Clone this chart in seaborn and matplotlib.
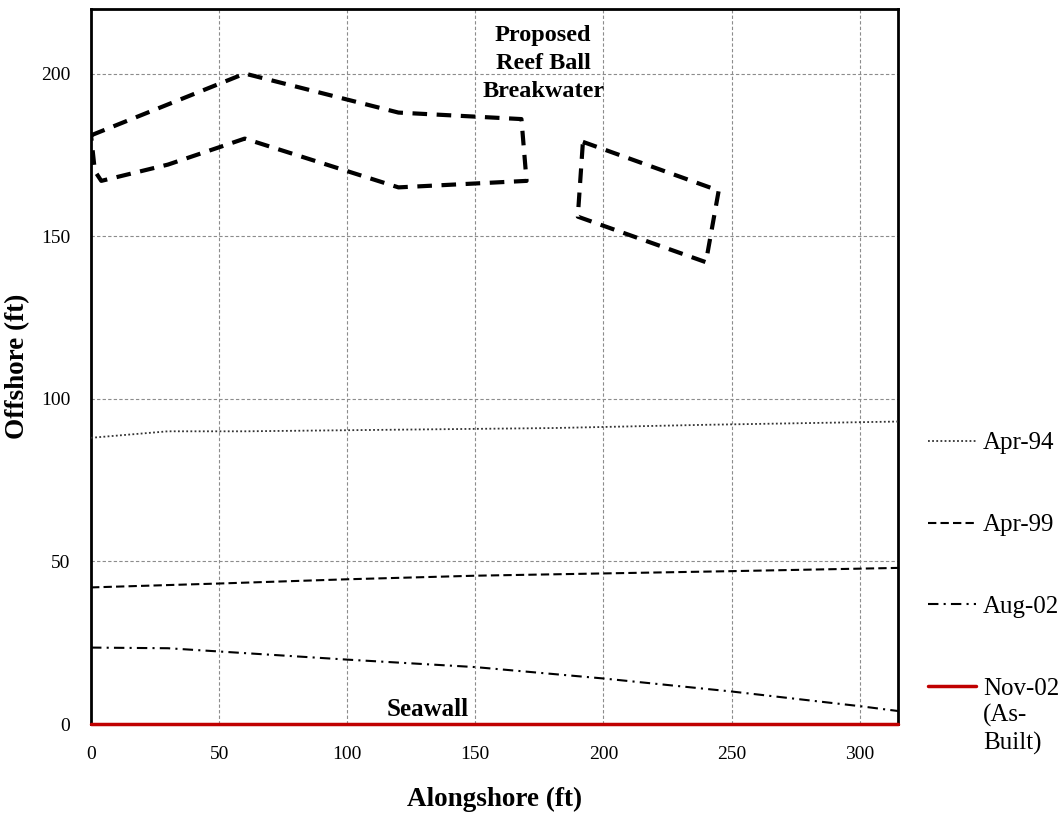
import matplotlib
matplotlib.use("Agg")
import matplotlib.pyplot as plt
from matplotlib.text import Annotation
import seaborn as sns
import pandas as pd

# ---------------- data ----------------
alongshore_apr94 = [0, 30, 60, 120, 180, 240, 315]
offshore_apr94 = [88, 90, 90, 90.5, 91, 92, 93]

alongshore_apr99 = [0, 50, 100, 150, 200, 250, 315]
offshore_apr99 = [42, 43.2, 44.5, 45.6, 46.3, 47, 48]

alongshore_aug02 = [0, 30, 60, 100, 150, 200, 250, 300, 315]
offshore_aug02 = [23.5, 23.3, 21.8, 19.8, 17.5, 14, 10, 5.5, 4]

alongshore_nov02 = [0, 315]
offshore_nov02 = [0, 0]

breakwater1_x = [0, 60, 120, 168, 170, 120, 60, 30, 4, 1.5, 0]
breakwater1_y = [181, 200, 188, 186, 167, 165, 180, 172, 167, 170, 181]

breakwater2_x = [192, 245, 240, 190, 192]
breakwater2_y = [179, 164, 142, 156, 179]

series_labels = ["Apr-94", "Apr-99", "Aug-02", "Nov-02"]
x_ticks = [0, 50, 100, 150, 200, 250, 300]
y_ticks = [0, 50, 100, 150, 200]

# ---------------- style ----------------
sns.set_style("white")
plt.rcParams['font.family'] = ['Liberation Serif', 'DejaVu Serif']
plt.rcParams['text.color'] = 'black'
plt.rcParams['axes.labelcolor'] = 'black'

fig = plt.figure(figsize=(10.61, 8.18), dpi=100)
ax = fig.add_axes([0.0858, 0.1149, 0.7606, 0.8747])

ax.set_axisbelow(True)
ax.grid(True, color="#8c8c8c", linestyle=(0, (3, 2)), linewidth=0.8)

styles = {
    "Apr-94": dict(color="#333333", linewidth=1.3, linestyle=(0, (1, 1.3))),
    "Apr-99": dict(color="black", linewidth=1.5, linestyle=(0, (4, 2))),
    "Aug-02": dict(color="black", linewidth=1.5, linestyle=(0, (5, 2.5, 1, 2.5))),
    "Nov-02": dict(color="#c00000", linewidth=2.5, linestyle="-"),
}
series = {
    "Apr-94": (alongshore_apr94, offshore_apr94),
    "Apr-99": (alongshore_apr99, offshore_apr99),
    "Aug-02": (alongshore_aug02, offshore_aug02),
    "Nov-02": (alongshore_nov02, offshore_nov02),
}
for name in series_labels:
    xs, ys = series[name]
    sns.lineplot(x=xs, y=ys, ax=ax, label=name, sort=False, estimator=None,
                 clip_on=False, zorder=3, **styles[name])

for bx, by in [(breakwater1_x, breakwater1_y), (breakwater2_x, breakwater2_y)]:
    sns.lineplot(x=bx, y=by, ax=ax, sort=False, estimator=None, color="black",
                 linewidth=3, linestyle=(0, (3.5, 2.3)), legend=False, zorder=3)

ax.set_xlim(0, 315)
ax.set_ylim(0, 220)
ax.set_xticks(x_ticks)
ax.set_yticks(y_ticks)
ax.tick_params(axis="both", direction="out", length=6, width=1, colors="black",
               labelsize=14)
ax.tick_params(axis="x", pad=10)
ax.tick_params(axis="y", pad=9)
for s in ax.spines.values():
    s.set_color("black")
    s.set_linewidth(2)

ax.set_xlabel("Alongshore (ft)", fontsize=19.5, fontweight="bold", labelpad=17)
ax.set_ylabel("Offshore (ft)", fontsize=19.5, fontweight="bold", labelpad=8)

ax.text(176.5, 203, "Proposed\nReef Ball\nBreakwater", ha="center", va="center",
        fontsize=17.5, fontweight="bold", linespacing=1.45)
ax.text(131.5, 4.5, "Seawall", ha="center", va="center", fontsize=18,
        fontweight="bold")

handles, labels = ax.get_legend_handles_labels()
ax.get_legend().remove()
leg = fig.legend(handles, labels, loc="upper left",
                 bbox_to_anchor=(928 / 1061, 1 - 432 / 818), frameon=False,
                 fontsize=18, handlelength=1.9, handletextpad=0.3,
                 labelspacing=2.37, borderpad=0, borderaxespad=0)

note = Annotation("(As-\nBuilt)", xy=(0, 0), xycoords=leg.get_texts()[-1],
                  xytext=(0, -3), textcoords="offset points", ha="left", va="top",
                  fontsize=18, linespacing=1.25, annotation_clip=False)
note.set_zorder(20)
fig.add_artist(note)

fig.savefig("out.png", dpi=100)
